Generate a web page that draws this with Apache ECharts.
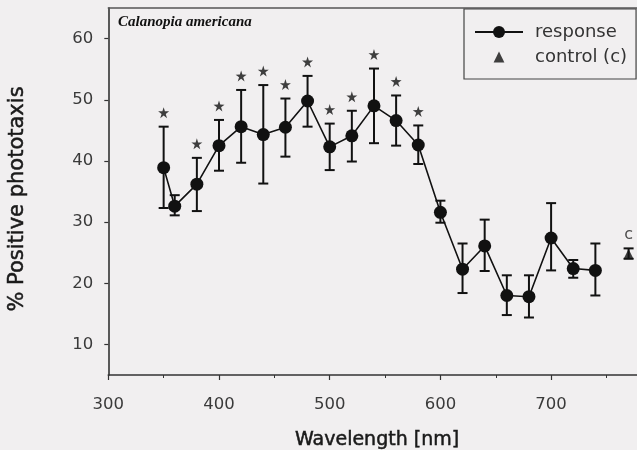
<!DOCTYPE html>
<html>
<head>
<meta charset="utf-8">
<script src="https://cdn.jsdelivr.net/npm/echarts@6/dist/echarts.min.js"></script>
<style>
html,body{margin:0;padding:0;background:#f1eff0;}
#chart{width:637px;height:450px;}
</style>
</head>
<body>
<div id="chart"></div>
<script>
// ---- data ----
const wavelengths = [350,360,380,400,420,440,460,480,500,520,540,560,580,600,620,640,660,680,700,720,740];
const response    = [38.9,32.6,36.2,42.5,45.6,44.3,45.5,49.8,42.3,44.1,49.0,46.6,42.6,31.6,22.3,26.1,18.0,17.8,27.4,22.4,22.1];
const errHigh     = [45.6,34.4,40.5,46.7,51.6,52.4,50.2,53.9,46.1,48.2,55.1,50.7,45.8,33.5,26.5,30.4,21.3,21.3,33.1,23.8,26.5];
const errLow      = [32.3,31.1,31.8,38.4,39.7,36.3,40.7,45.6,38.5,39.9,42.9,42.5,39.5,29.9,18.4,22.0,14.8,14.4,22.1,20.9,18.0];
const significant = [1,0,1,1,1,1,1,1,1,1,1,1,1,0,0,0,0,0,0,0,0];
const controlX    = [770];
const controlY    = [24.8];
const controlLow  = [24.0];
const controlHigh = [25.7];
const xTickLabels = [300,400,500,600,700];
const yTickValues = [10,20,30,40,50,60];

const STAR = 'path://M50,0 L61,34 L97.6,34.5 L68,55.5 L79.4,90.5 L50,69 L20.6,90.5 L32,55.5 L2.4,34.5 L39,34 Z';
const TRI_LEGEND = 'path://M0,0 M100,100 M50,14 L86,86 L14,86 Z';

const ink = '#111';
const chart = echarts.init(document.getElementById('chart'), null, {renderer:'canvas'});

const responseData = wavelengths.map((w,i)=>[w, response[i]]);
const errData = wavelengths.map((w,i)=>[w, errLow[i], errHigh[i]]);
const starData = wavelengths.map((w,i)=>[w, errHigh[i]]).filter((d,i)=>significant[i]);
const ctrlData = controlX.map((w,i)=>[w, controlY[i]]);
const ctrlErr = controlX.map((w,i)=>[w, controlLow[i], controlHigh[i]]);

function errRender(params, api){
  const x = api.value(0), lo = api.value(1), hi = api.value(2);
  const a = api.coord([x, hi]), b = api.coord([x, lo]);
  const w = 5;
  const st = {stroke: ink, lineWidth: 2};
  return {type:'group', children:[
    {type:'line', shape:{x1:a[0],y1:a[1],x2:b[0],y2:b[1]}, style:st},
    {type:'line', shape:{x1:a[0]-w,y1:a[1],x2:a[0]+w,y2:a[1]}, style:st},
    {type:'line', shape:{x1:b[0]-w,y1:b[1],x2:b[0]+w,y2:b[1]}, style:st}
  ]};
}

const tickFont = {fontFamily:'DejaVu Sans', fontSize:16.5, color:'#3a3a3a'};

chart.setOption({
  animation:false,
  backgroundColor:'#f1eff0',
  title:{
    text:'Calanopia americana', left:118, top:15, padding:0,
    textStyle:{fontFamily:'Liberation Serif', fontStyle:'italic', fontWeight:'bold', fontSize:15, color:'#111'}
  },
  legend:{
    orient:'vertical', left:464, top:9,
    padding:[13,9,12,10], itemGap:5, itemWidth:48, itemHeight:15,
    borderColor:'#444', borderWidth:1.2, borderRadius:0,
    data:[{name:'response'},{name:'control (c)', icon:TRI_LEGEND}],
    textStyle:{fontFamily:'DejaVu Sans', fontSize:18, color:'#333', lineHeight:20, padding:[0,0,0,7]}
  },
  grid:{left:108.3, top:8, width:553.5, height:367, containLabel:false, outerBoundsMode:'none'},
  xAxis:[{
    type:'value', min:300, max:800, interval:100,
    name:'Wavelength [nm]', nameLocation:'middle', nameGap:56,
    nameTextStyle:{fontFamily:'DejaVu Sans', fontSize:19, color:'#1a1a1a', textBorderColor:'#1a1a1a', textBorderWidth:0.5, padding:[0,16,0,0]},
    axisLine:{show:true, lineStyle:{color:'#333', width:1.6}},
    axisTick:{show:true, length:5, lineStyle:{color:'#333', width:1.2}},
    minorTick:{show:true, splitNumber:2, length:3, lineStyle:{color:'#333', width:1}},
    axisLabel:{...tickFont, margin:21, customValues:xTickLabels},
    splitLine:{show:false}, minorSplitLine:{show:false}
  },{
    type:'value', min:300, max:800, position:'top',
    axisLine:{show:true, lineStyle:{color:'#555', width:1.5}},
    axisTick:{show:false}, axisLabel:{show:false}, splitLine:{show:false}
  }],
  yAxis:{
    type:'value', min:5, max:65, interval:10,
    name:'% Positive phototaxis', nameLocation:'middle', nameGap:80, nameRotate:90,
    nameTextStyle:{fontFamily:'DejaVu Sans', fontSize:21, color:'#1a1a1a', textBorderColor:'#1a1a1a', textBorderWidth:0.5, padding:[0,15,0,0]},
    axisLine:{show:true, lineStyle:{color:'#333', width:1.6}},
    axisTick:{show:true, length:4, customValues:yTickValues, lineStyle:{color:'#333', width:1.2}},
    axisLabel:{...tickFont, margin:15, customValues:yTickValues},
    splitLine:{show:false}
  },
  series:[
    {type:'custom', name:'errors', renderItem:errRender, data:errData, z:2, silent:true},
    {type:'line', name:'response', data:responseData, symbol:'circle', symbolSize:13,
     lineStyle:{color:ink, width:1.6}, itemStyle:{color:ink}, z:3},
    {type:'scatter', name:'stars', data:starData, symbol:STAR, symbolSize:11,
     symbolOffset:[0,-14], itemStyle:{color:ink}, z:3},
    {type:'custom', name:'ctrlErr', renderItem:errRender, data:ctrlErr, z:2, silent:true},
    {type:'scatter', name:'control (c)', data:ctrlData, symbol:'triangle', symbolSize:10,
     itemStyle:{color:ink}, z:3,
     label:{show:true, position:'top', distance:6, formatter:'c',
            fontFamily:'DejaVu Sans', fontSize:16, color:'#222'}}
  ]
});
</script>
</body>
</html>
